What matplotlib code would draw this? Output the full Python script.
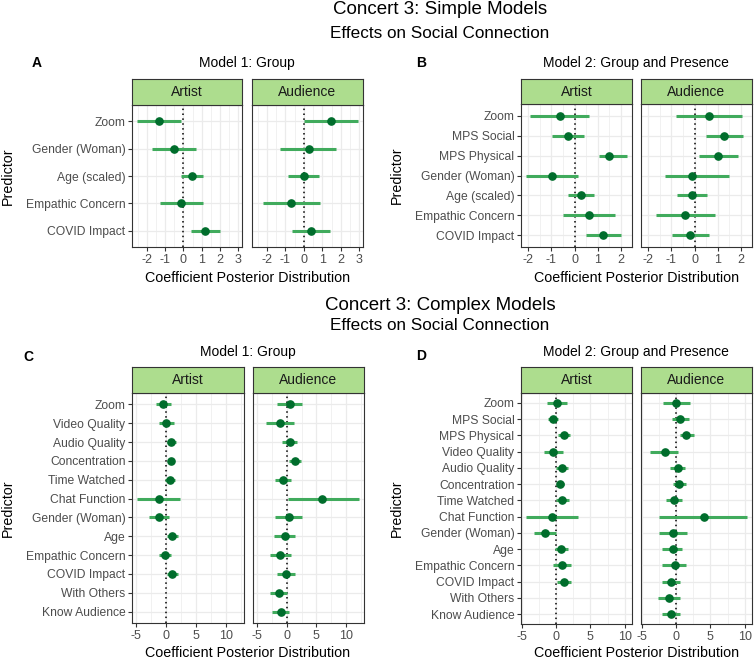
import numpy as np
import matplotlib
matplotlib.use("Agg")
import matplotlib.pyplot as plt
from matplotlib.ticker import FixedLocator

plt.rcParams['font.family'] = ['Liberation Sans', 'DejaVu Sans']

W, H = 755, 664

# ---- data ----
labels_a = ["Zoom", "Gender (Woman)", "Age (scaled)", "Empathic Concern", "COVID Impact"]
a_art_est = [-1.31, -0.54, 0.47, -0.14, 1.20]
a_art_lo = [-2.53, -1.72, -0.14, -1.29, 0.39]
a_art_hi = [-0.13, 0.68, 1.09, 1.04, 1.99]
a_aud_est = [1.46, 0.25, -0.02, -0.70, 0.39]
a_aud_lo = [0.0, -1.29, -0.88, -2.20, -0.63]
a_aud_hi = [2.92, 1.75, 0.80, 0.86, 1.41]

labels_b = ["Zoom", "MPS Social", "MPS Physical", "Gender (Woman)", "Age (scaled)",
            "Empathic Concern", "COVID Impact"]
b_art_est = [-0.64, -0.30, 1.46, -0.95, 0.28, 0.64, 1.23]
b_art_lo = [-1.91, -0.98, 1.05, -2.08, -0.30, -0.51, 0.51]
b_art_hi = [0.64, 0.40, 2.25, 0.16, 0.83, 1.74, 2.00]
b_aud_est = [0.64, 1.27, 1.00, -0.10, -0.11, -0.42, -0.18]
b_aud_lo = [-0.78, 0.49, 0.20, -1.27, -0.76, -1.65, -0.98]
b_aud_hi = [2.05, 2.10, 1.87, 1.48, 0.54, 0.86, 0.62]

labels_c = ["Zoom", "Video Quality", "Audio Quality", "Concentration", "Time Watched",
            "Chat Function", "Gender (Woman)", "Age", "Empathic Concern", "COVID Impact",
            "With Others", "Know Audience"]
c_art_est = [-0.44, 0.0, 0.83, 0.78, 0.61, -1.17, -1.17, 1.06, -0.17, 1.06, None, None]
c_art_lo = [-1.61, -1.22, 0.11, 0.28, -0.11, -4.83, -2.78, 0.17, -1.22, 0.17, None, None]
c_art_hi = [0.78, 1.33, 1.67, 1.33, 1.44, 2.39, 0.44, 1.94, 0.89, 1.94, None, None]
c_aud_est = [0.50, -1.06, 0.50, 1.33, -0.61, 6.00, 0.33, -0.33, -1.11, -0.17, -1.28, -1.00]
c_aud_lo = [-1.67, -3.44, -0.72, 0.44, -1.94, 0.17, -1.94, -2.06, -2.89, -1.61, -2.89, -2.44]
c_aud_hi = [2.56, 1.28, 1.78, 2.33, 0.72, 12.17, 2.61, 1.33, 0.67, 1.33, 0.06, 0.39]

labels_d = ["Zoom", "MPS Social", "MPS Physical", "Video Quality", "Audio Quality",
            "Concentration", "Time Watched", "Chat Function", "Gender (Woman)", "Age",
            "Empathic Concern", "COVID Impact", "With Others", "Know Audience"]
d_art_est = [0.10, -0.44, 1.16, -0.44, 0.87, 0.58, 0.92, -0.58, -1.64, 0.73, 0.82, 1.21, None, None]
d_art_lo = [-1.35, -1.21, 0.24, -1.84, 0.0, 0.10, 0.0, -4.40, -3.29, -0.24, -0.48, 0.19, None, None]
d_art_hi = [1.60, 0.34, 2.08, 1.02, 1.74, 1.21, 1.84, 3.19, 0.0, 1.74, 2.13, 2.18, None, None]
d_aud_est = [0.0, 0.58, 1.50, -1.70, 0.24, 0.39, -0.34, 4.03, -0.44, -0.53, -0.24, -0.73, -1.07, -0.73]
d_aud_lo = [-1.89, -0.68, 0.53, -3.88, -0.97, -0.53, -1.46, -2.48, -2.57, -2.09, -2.04, -2.04, -2.72, -2.04]
d_aud_hi = [1.99, 1.84, 2.67, 0.29, 1.36, 1.46, 0.83, 10.34, 1.55, 0.92, 1.41, 0.58, 0.58, 0.58]

STRIP = "#addd8e"
LINE = "#41ab5d"
POINT = "#006d2c"
GRID = "#ebebeb"
BORDER = "#333333"

fig = plt.figure(figsize=(W / 100, H / 100), dpi=100)


def px_axes(x0, y0, x1, y1):
    return fig.add_axes([x0 / W, 1 - y1 / H, (x1 - x0) / W, (y1 - y0) / H])


def ftext(x, y, s, **kw):
    fig.text(x / W, 1 - y / H, s, **kw)


def facet_panel(x0, x1, ys, strip_h, y1, labels, est, lo, hi, xlim, major, minor, name, left):
    n = len(labels)
    ax = px_axes(x0, ys + strip_h, x1, y1)
    yy = np.arange(n)[::-1]
    est = np.array(est, dtype=float)
    lo = np.array(lo, dtype=float)
    hi = np.array(hi, dtype=float)
    ax.set_xlim(xlim)
    ax.set_ylim(-0.6, n - 0.4)
    ax.xaxis.set_major_locator(FixedLocator(major))
    ax.xaxis.set_minor_locator(FixedLocator(minor))
    ax.set_yticks(yy)
    ax.grid(True, which="major", color=GRID, lw=0.9, zorder=0)
    ax.grid(True, which="minor", axis="x", color=GRID, lw=0.5, zorder=0)
    ax.set_axisbelow(True)
    ax.axvline(0, color="black", ls=(0, (1, 2.2)), lw=1.1, zorder=2)
    ok = ~np.isnan(est)
    ax.hlines(yy[ok], lo[ok], hi[ok], color=LINE, lw=2.2, zorder=3)
    ax.plot(est[ok], yy[ok], "o", color=POINT, ms=5.2, zorder=4)
    for s in ax.spines.values():
        s.set_color(BORDER)
        s.set_linewidth(0.8)
    ax.tick_params(axis="both", which="major", length=2.7, width=0.8, color=BORDER,
                   labelcolor="#4d4d4d", labelsize=9, pad=2)
    ax.tick_params(axis="y", labelsize=8.7)
    ax.tick_params(axis="both", which="minor", length=0)
    ax.set_xticklabels(["%g" % v for v in major])
    if left:
        ax.set_yticklabels(labels)
    else:
        ax.tick_params(axis="y", length=0, labelleft=False)
    sa = px_axes(x0, ys, x1, ys + strip_h)
    sa.set_facecolor(STRIP)
    sa.set_xticks([])
    sa.set_yticks([])
    for s in sa.spines.values():
        s.set_color(BORDER)
        s.set_linewidth(0.8)
    sa.text(0.5, 0.5, name, ha="center", va="center", fontsize=10, color="#1a1a1a",
            transform=sa.transAxes)
    return ax


def block(cols, ys, strip_h, y1, labels, art, aud, major, minor, title, tx, ty,
          letter, lx, ly, xl_y):
    # shared x scale with ggplot-style 5% expansion
    vals = [v for v in art[1] + art[2] + aud[1] + aud[2] if v is not None]
    lo_v, hi_v = min(vals), max(vals)
    pad = 0.05 * (hi_v - lo_v)
    xlim = (lo_v - pad, hi_v + pad)
    facet_panel(cols[0], cols[1], ys, strip_h, y1, labels, *art, xlim, major, minor, "Artist", True)
    facet_panel(cols[2], cols[3], ys, strip_h, y1, labels, *aud, xlim, major, minor, "Audience", False)
    ftext(tx, ty, title, ha="center", va="center", fontsize=10)
    ftext(lx, ly, letter, ha="left", va="center", fontsize=10, fontweight="bold")
    ftext((cols[0] + cols[3]) / 2, xl_y, "Coefficient Posterior Distribution",
          ha="center", va="center", fontsize=10.3)
    ftext(cols[0] - 124, (ys + strip_h + y1) / 2, "Predictor",
          ha="center", va="center", rotation=90, fontsize=10.3)


# titles
ftext(440, 10, "Concert 3: Simple Models", ha="center", va="center", fontsize=13.5)
ftext(440, 33, "Effects on Social Connection", ha="center", va="center", fontsize=12.3)
ftext(440, 306, "Concert 3: Complex Models", ha="center", va="center", fontsize=13.5)
ftext(440, 325, "Effects on Social Connection", ha="center", va="center", fontsize=12.3)

mA = [-2, -1, 0, 1, 2, 3]
nA = [-2.5, -1.5, -0.5, 0.5, 1.5, 2.5]
mB = [-2, -1, 0, 1, 2]
nB = [-1.5, -0.5, 0.5, 1.5]
mC = [-5, 0, 5, 10]
nC = [-2.5, 2.5, 7.5, 12.5]

block((132, 242, 252, 363), 79, 26, 247, labels_a,
      (a_art_est, a_art_lo, a_art_hi), (a_aud_est, a_aud_lo, a_aud_hi),
      mA, nA, "Model 1: Group", 247, 63, "A", 32, 63, 278)
block((521, 632, 641, 752), 79, 25, 247, labels_b,
      (b_art_est, b_art_lo, b_art_hi), (b_aud_est, b_aud_lo, b_aud_hi),
      mB, nB, "Model 2: Group and Presence", 636, 63, "B", 416, 63, 278)
block((132, 244, 253, 364), 367, 26, 623, labels_c,
      (c_art_est, c_art_lo, c_art_hi), (c_aud_est, c_aud_lo, c_aud_hi),
      mC, nC, "Model 1: Group", 248, 352, "C", 23, 357, 653)
block((521, 632, 641, 752), 367, 26, 624, labels_d,
      (d_art_est, d_art_lo, d_art_hi), (d_aud_est, d_aud_lo, d_aud_hi),
      mC, nC, "Model 2: Group and Presence", 636, 352, "D", 416, 356, 653)

fig.savefig("out.png", dpi=100)
